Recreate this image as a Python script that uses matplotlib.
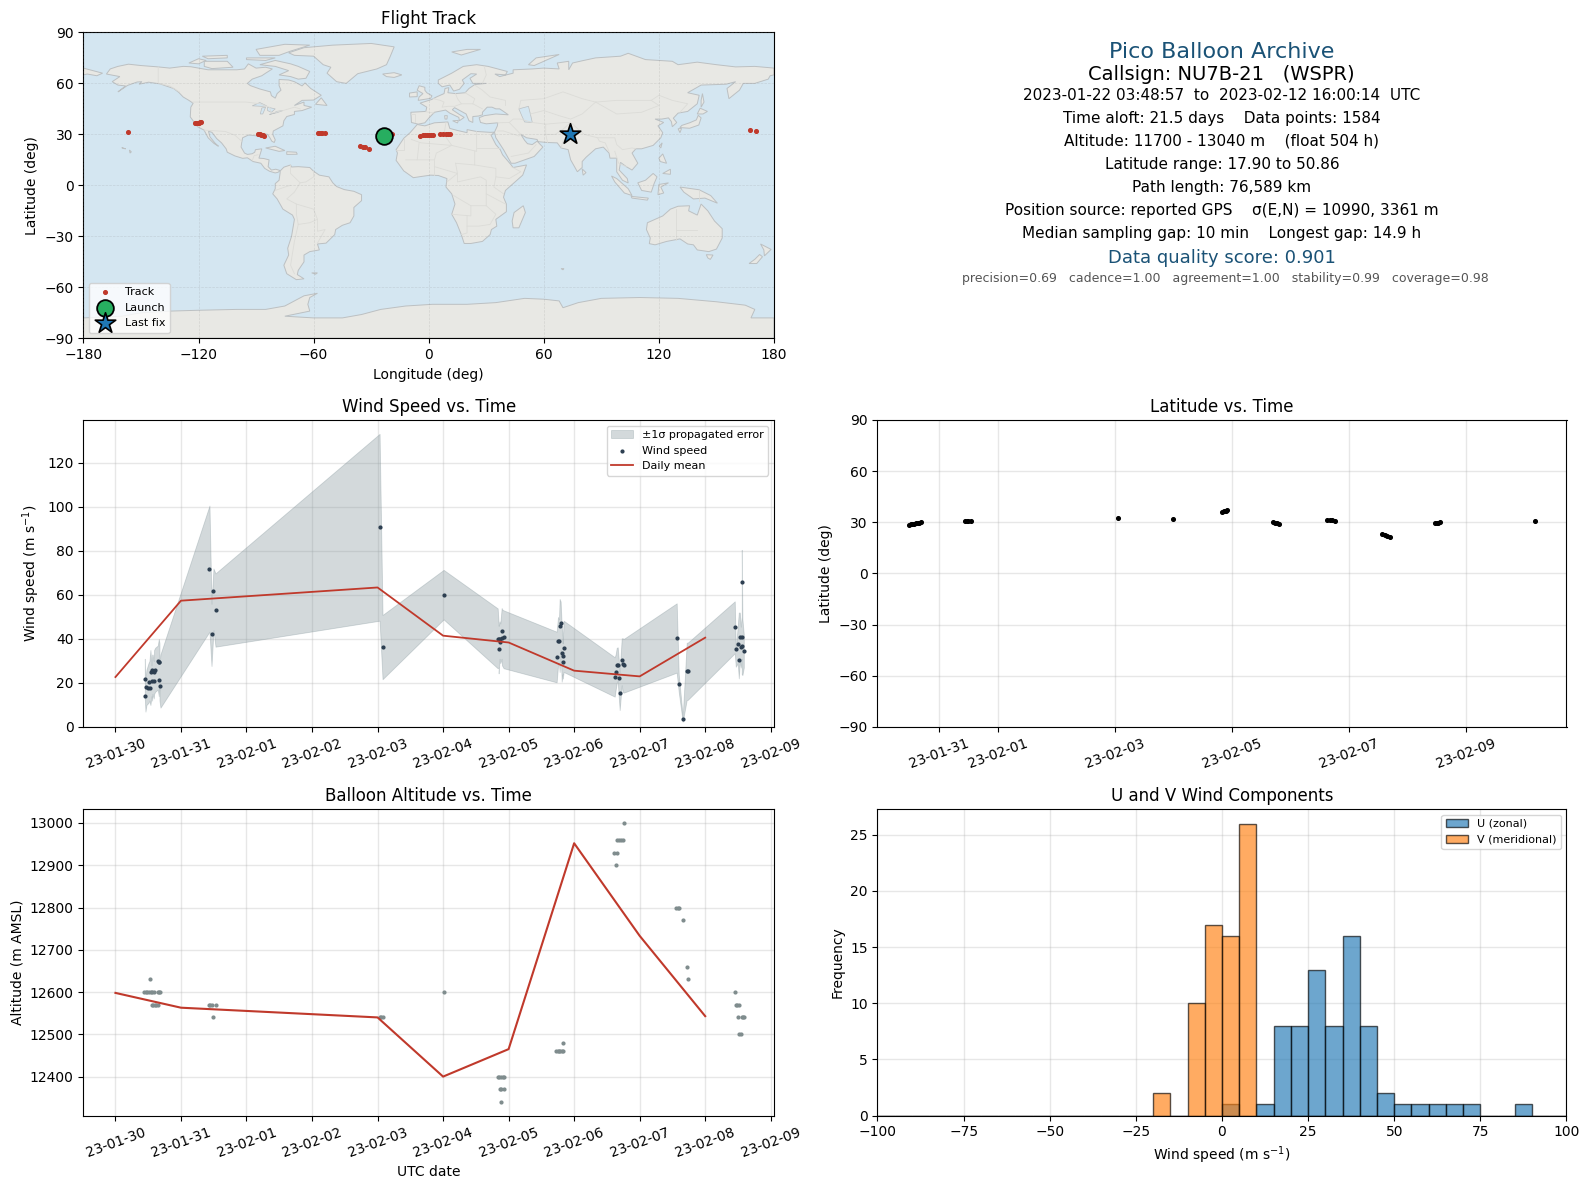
import matplotlib
matplotlib.use("Agg")
import matplotlib.pyplot as plt
import matplotlib.dates as mdates
import numpy as np

# ---------- data ----------
START = mdates.date2num(np.datetime64("2023-01-30"))
date_ticks_all = ["2023-01-30","2023-01-31","2023-02-01","2023-02-02","2023-02-03","2023-02-04",
                  "2023-02-05","2023-02-06","2023-02-07","2023-02-08","2023-02-09"]
date_ticks_lat = ["2023-01-31","2023-02-01","2023-02-03","2023-02-05","2023-02-07","2023-02-09"]

track_lon = [-156.6,-122,-121.2,-120.5,-120,-119.4,-118.7,-89.2,-88.5,-88,-87.3,-86.6,-85.6,
             -57.8,-57,-56.2,-55.4,-54.3,-35.6,-34.5,-33,-31,-19.2,-4.3,-3,-2,-1,0,1,2.3,5.9,7.5,9,10,11,167.3,170.6]
track_lat = [31.5,36.6,36.5,36.7,36.9,37.2,37.5,30,30,30,29.8,29.5,29,
             31,31,31,31,31,23.3,22.8,22.4,21.5,30,29,29.4,29.6,29.7,29.7,29.8,29.8,30.3,30.3,30.3,30.3,30.3,32.6,32]
launch_lon, launch_lat = -23.4, 29.0
last_lon, last_lat = 73.6, 30.2

wind_t = [.448,.458,.473,.504,.519,.534,.550,.560,.565,.585,.590,.606,.646,.662,.672,.672,.687,
          1.435,1.466,1.496,1.527,4.031,4.076,5.008,
          5.833,5.848,5.848,5.863,5.873,5.894,5.899,5.924,
          6.733,6.754,6.769,6.779,6.794,6.810,6.825,6.825,6.840,
          7.619,7.634,7.650,7.665,7.680,7.695,7.726,7.741,7.756,
          8.565,8.596,8.657,8.718,8.733,
          9.451,9.467,9.497,9.513,9.528,9.543,9.558,9.558,9.568,9.589]
wind_v = [21.7,13.9,18.0,17.6,20.6,17.9,24.8,21.1,26.1,20.8,24.8,26.1,30.2,29.4,29.7,21.2,18.5,
          71.7,42.1,61.7,53.0,90.8,36.2,59.8,
          39.8,39.8,35.3,39.8,38.5,43.5,40.5,40.8,
          31.7,38.9,38.9,45.8,47.1,33.5,32.1,29.4,35.8,
          22.6,24.8,28.0,28.0,22.1,15.3,30.3,28.5,28.0,
          40.3,19.4,3.5,25.3,25.3,
          45.3,35.3,37.6,30.3,40.8,36.2,40.8,65.8,36.7,34.4]
wind_lo = [13,7,10,11,12,10,14,12,15,13,15,16,17,14,19,12,8.8,
           43.3,27.7,44,36.5,48.3,21.7,48.9,
           26.7,27,24.4,31,29,31,28,26.7,
           20.3,28,29,25,35,20.6,24,22,25,
           13.8,17,20,21,14,7.7,19,16,15.6,
           24.7,16,2.4,12.3,12.3,
           33.5,27.4,29,22.1,30,27,31,24,23.6,27]
wind_hi = [31,21,26,29,30,35,28,32,33,30,35,36,37,40,38,29,33,
           100.6,56,72,69.8,133.2,50.9,71.4,
           53.9,47,46,48,47,54,53.5,53,
           43.3,50,49,58.2,57,46,41,38,48.3,
           31.7,33,36,36.2,31,25,40.3,40.3,40,
           56.2,24,4.7,38.3,38.3,
           57.1,35,46,52,52,45.6,50,80.5,49,42]
daily_t = [0,1,4,5,6,7,8,9]
wind_daily = [22.7,57.4,63.4,41.5,38.4,25.6,23,40.6]
alt_daily = [12598,12563,12540,12400,12465,12952,12733,12543]

alt_t = [.534,.438,.463,.489,.514,.539,.565,.590,.656,.672,.687,.56,.58,.60,.626,.646,
         1.43,1.45,1.476,1.527,1.496,4.03,4.05,4.076,5.008,
         5.833,5.86,5.884,5.91,5.924,5.863,5.889,5.924,5.878,
         6.73,6.75,6.77,6.79,6.81,6.83,6.835,
         7.634,7.61,7.655,7.655,7.685,7.715,7.745,7.756,
         8.56,8.58,8.60,8.657,8.718,8.733,
         9.451,9.467,9.487,9.517,9.503,9.564,9.58,9.595,9.52,9.545]
alt_v = [12630,12600,12600,12600,12600,12600,12600,12600,12600,12600,12600,12570,12570,12570,12570,12570,
         12570,12570,12570,12570,12540,12540,12540,12540,12600,
         12400,12400,12400,12400,12400,12370,12370,12370,12340,
         12460,12460,12460,12460,12460,12460,12480,
         12900,12930,12930,12960,12960,12960,12960,13000,
         12800,12800,12800,12770,12660,12630,
         12600,12570,12570,12570,12540,12540,12540,12540,12500,12500]

lat_t = [.48,.51,.54,.57,.60,.63,.66,.69,1.444,1.47,1.50,1.535,4.058,5.0,5.84,5.87,5.90,5.92,
         6.71,6.74,6.78,6.81,7.63,7.67,7.71,7.76,8.575,8.62,8.66,8.71,9.47,9.50,9.53,9.56,11.19]
lat_v = [28.6,28.9,29.1,29.3,29.5,29.7,29.9,30,30.6,30.6,30.6,30.6,32.3,31.8,36.2,36.5,36.8,37,
         30,29.7,29.4,29.2,31.2,31.2,31.1,30.6,23.2,22.6,22.1,21.6,29.4,29.5,29.7,30,30.6]

bin_edges = list(range(-100, 100, 5))
u_counts = [0]*20 + [1,0,1,8,8,13,8,16,8,2,1,1,1,1,1,0,0,1,0,0]
v_counts = [0]*16 + [2,0,10,17,16,26] + [0]*18

info_lines = [
    ("Pico Balloon Archive", 51.7, 16, "#1a5276", 1222),
    ("Callsign: NU7B-21   (WSPR)", 74, 14, "black", 1221),
    ("2023-01-22 03:48:57  to  2023-02-12 16:00:14  UTC", 95.3, 11, "black", 1222),
    ("Time aloft: 21.5 days    Data points: 1584", 118.6, 11, "black", 1222),
    ("Altitude: 11700 - 13040 m    (float 504 h)", 140.9, 11, "black", 1222),
    ("Latitude range: 17.90 to 50.86", 164.2, 11, "black", 1222),
    ("Path length: 76,589 km", 187.5, 11, "black", 1222),
    ("Position source: reported GPS    σ(E,N) = 10990, 3361 m", 210.8, 11, "black", 1222),
    ("Median sampling gap: 10 min    Longest gap: 14.9 h", 233.1, 11, "black", 1222),
    ("Data quality score: 0.901", 258.4, 13, "#1a5276", 1222),
    ("precision=0.69   cadence=1.00   agreement=1.00   stability=0.99   coverage=0.98", 278.2, 9, "#555555", 1225),
]

# simplified coastlines (lon, lat)
north_america = [(-168,65.5),(-166,68.5),(-162,70),(-156.5,71.3),(-150,70.5),(-141,69.7),(-135,69),(-128,70),(-124,69.8),(-115,68),(-108,68),(-100,68),(-96,68.5),(-94,71.5),(-90,69),(-85,69.5),(-81.5,68.5),(-85,66),(-87,64.5),(-92,62.5),(-94.5,60),(-93,58.7),(-88,56.7),(-82.5,55),(-82,52.8),(-80,51.3),(-79,54),(-77,56),(-78,58.7),(-78,62.3),(-73,62),(-70,61),(-66,58.5),(-64.5,60.3),(-61.5,57),(-56,53),(-60,50.2),(-66,50),(-70,47),(-65,49),(-65,47),(-61,46),(-66,44),(-70,43.5),(-70,41.7),(-74,40.5),(-75.5,38),(-76,35),(-78,33.8),(-81,32),(-81.3,30),(-80,26.8),(-80.5,25.2),(-81.8,26),(-82.8,28),(-84,30),(-86,30.4),(-89.5,30.2),(-89.5,29.1),(-91,29.3),(-94,29.6),(-97,28),(-97.5,25),(-97.8,22.5),(-96,19),(-94.5,18.2),(-92,18.6),(-90.7,19.5),(-90.3,21),(-87,21.5),(-87.8,18.5),(-88.5,16),(-86,15.8),(-83.2,15),(-83.7,11),(-82,9),(-79.7,9.5),(-77.4,8.7),(-78.5,7.7),(-80,7.3),(-83,8.3),(-85.5,10),(-87.5,13),(-91.5,14),(-94.5,16.2),(-97,15.9),(-101,17.3),(-105,19.5),(-105.6,21.5),(-108,25),(-110.5,27.5),(-113,31.2),(-114.8,31.8),(-114,28.5),(-111.5,25),(-109.6,23),(-112,24.7),(-115,28),(-117.1,32.5),(-120.5,34.5),(-122.5,37.5),(-124.3,40.3),(-124,46),(-122.8,48.3),(-125,50),(-128,52),(-130.3,54.7),(-133,57),(-137,58.5),(-140,59.7),(-146,60.7),(-151,59.5),(-149.5,61),(-152,60.8),(-157,58.8),(-162,55),(-158,58.5),(-162,59),(-165,61),(-161,64),(-168,65.5)]
south_america = [(-77.4,8.5),(-75.5,10.7),(-72,12),(-71.5,10.8),(-68,11),(-62,10.5),(-60,8.3),(-57,6),(-52,5),(-50,1.5),(-48,-0.7),(-44,-2.5),(-39,-3.5),(-35,-5.5),(-35,-9),(-39,-13),(-39,-18),(-41,-22),(-45,-23.5),(-48.5,-26),(-49,-29),(-53.5,-34),(-58,-34.5),(-57,-38),(-62,-39),(-65,-41),(-65,-45),(-68,-50),(-68.5,-52.5),(-65,-55),(-69,-55.5),(-74,-52),(-75.5,-47),(-73,-41),(-73.5,-37),(-71.5,-30),(-70,-20),(-71,-17.5),(-76,-14),(-79,-8),(-81.3,-5),(-80,-2),(-80,1),(-78,3),(-77.5,7)]
africa = [(-6,35.8),(-2,35),(3,36.8),(10,37.3),(11,33.5),(15,32.3),(20,31),(20,32.8),(25,31.7),(32,31.2),(34.3,31.3),(32.5,29.5),(35,24),(37.3,21),(38.5,18),(43,12),(44,10.5),(51,12),(49,6),(44,1),(40,-3),(39,-7),(40.5,-11),(40.5,-15.5),(35,-20),(35.5,-24),(32.7,-26),(32,-29),(28,-33),(22,-34.2),(18.5,-34.2),(17,-29),(14.5,-22),(12,-17),(13.7,-11),(12,-5),(9,-1),(9.5,4),(5,5.8),(1,6),(-4,5.2),(-8,4.5),(-13,8.5),(-17,14.7),(-16.3,19),(-17,21),(-13,27.7),(-9.7,31)]
eurasia = [(-9,37),(-9.3,43),(-1.5,43.5),(-1,46),(-4.5,48.4),(1.5,50.5),(4,52),(8,54),(8.5,57),(10.5,57.5),(10,54.5),(14,54),(19,54.5),(21,57),(24,59.3),(30,60),(23,60),(21.5,63),(25,65.5),(22,65.7),(17.5,62),(18.5,60),(16,56.5),(13,55.5),(11,59),(7,58),(5,60),(5,62),(12,66),(18,70),(25,71),(31,70),(41,67),(40,65),(34.5,65.5),(37,64),(44,66),(44,68),(54,68.5),(60,69),(68,68.5),(67,72),(73,73),(73,68),(75,72),(80,73.3),(87,75),(100,76),(104,77.7),(113,74),(127,73),(130,71),(140,72.5),(150,71),(160,69.7),(170,70),(180,69),(180,65),(178,64.5),(177,62.5),(170,60),(164,60),(162,56),(156.5,51),(155.5,57),(160,61),(155,59.5),(142,59),(135,54.5),(141,53),(140,48),(135,43.5),(130,42.5),(127.5,39.5),(129.3,37),(127,34.5),(126.5,37.5),(125,39.7),(121.5,39),(118,39),(122.5,37),(119.5,35),(122,31),(121,28),(117,23.5),(111,21.5),(108,21.5),(106,19),(109,13),(106,9),(103,11),(100,13.5),(99.3,9),(103.5,4),(104,1.4),(101,3),(98,8),(98,16),(94.5,16),(94,19),(91,22.5),(87,21.5),(82,16.5),(80,14),(80,10.5),(77.5,8),(74,15),(72.7,21),(69,22),(67,25),(62,25.2),(57,25.7),(56.5,27),(51,28),(48,30),(50,26.5),(51.5,24.5),(54,24),(56.5,26),(59.5,22.5),(55,17),(45,13),(43,13),(39,21),(35,28),(34.3,31.3),(35.8,35),(36,36.8),(30,36.2),(27,37),(26.3,39.8),(29,41),(35,42),(41.5,41.5),(39,43.5),(37,45),(35,45),(33,46),(30.5,46),(28,43),(28,41.5),(26,40.8),(23,40.5),(23,37),(21,38),(19.5,42),(13.5,45.7),(12.3,44.5),(16,41.7),(18.5,40),(16,38),(15.7,40),(11,42.5),(8.8,44.3),(3,43),(0,39.5),(-2,36.8),(-5.5,36)]
chukotka = [(-180,69),(-175,67.5),(-170,66),(-173,64.5),(-178,65.5),(-180,65)]
greenland = [(-73,78),(-65,81),(-50,82.5),(-30,83.5),(-18,81.5),(-20,76),(-22,71),(-27,68.5),(-37,65.7),(-43,60),(-48,61),(-53,66),(-51,69.5),(-55,71),(-60,76),(-70,76.5)]
australia = [(114,-22),(122,-18),(126,-14),(130,-12.3),(136,-12),(135.5,-15),(140,-17.5),(142,-11),(145.5,-15),(149,-21),(153,-25.5),(153,-31),(150,-37.5),(146,-39),(140,-38),(138,-35),(135,-34.5),(131,-31.5),(124,-33),(118,-35),(115,-34.3),(115.5,-31),(113.5,-26)]
antarctica = [(-180,-90),(-180,-78),(-160,-77),(-150,-75),(-135,-74),(-120,-73.5),(-100,-73),(-85,-73),(-75,-71),(-70,-68),(-65,-65),(-58,-63.5),(-62,-66),(-63,-70),(-62,-74),(-75,-77),(-60,-78),(-45,-78),(-35,-76),(-25,-73),(-12,-71),(2,-70),(20,-70),(35,-69),(50,-66.5),(60,-67),(68,-68),(70,-72),(78,-69),(90,-66.5),(110,-66),(130,-66.5),(150,-68.5),(165,-70.5),(170,-73),(168,-78),(180,-78),(180,-90)]
islands = [
 [(-80,73.5),(-72,71.5),(-68,70),(-62,67),(-64,63),(-68,62.5),(-72,64),(-78,65),(-73,67.5),(-80,70),(-88,71)],
 [(-117,73),(-105,73),(-102,69.5),(-113,68.7),(-117,70)],
 [(-90,80),(-75,83),(-62,82.5),(-72,79),(-78,76.5),(-88,76.5)],
 [(-125,72),(-120,74.5),(-116,73.5),(-120,71.5)],
 [(-95,75),(-80,75),(-85,73.5),(-95,74)],
 [(-118,76),(-105,76.5),(-105,75),(-115,74.5)],
 [(-59,47.7),(-56,51.5),(-53,47)],
 [(-85,22),(-80,23),(-75,20.5),(-78,20)],
 [(-74,19.8),(-69,19.5),(-68.5,18.3),(-74,18.2)],
 [(-156,20.8),(-155,19.7),(-155.7,19)],
 [(-160,22.2),(-158,21.5),(-159,21.7)],
 [(-24,65.5),(-18,66.3),(-14,65),(-18,63.5),(-22,64)],
 [(49.3,-12),(50.4,-16),(47,-25),(44,-25),(43.5,-21),(44.5,-16)],
 [(-5.5,50),(1,51.2),(1.7,52.7),(-1,54.5),(-2,56),(-2,57.7),(-5,58.6),(-6,56),(-3,54),(-5,52)],
 [(-10,52),(-6,52.2),(-6,55),(-10,54.3)],
 [(130.9,34),(136,33.6),(140.8,35.5),(142,39.7),(140.5,41.2),(139.5,38.5),(136,36.8),(132,35.3)],
 [(130,33.3),(131.8,33.5),(131,31)],
 [(140,42),(141.5,45.4),(145.3,43.5),(143,42)],
 [(142,46),(143.5,49),(142.7,54),(142,50)],
 [(120.2,23),(121.7,25),(121,22)],
 [(120,16),(122,18.5),(124,13),(120.7,14)],
 [(122,7),(126,9.5),(126,6.5)],
 [(109,1.5),(113,3),(117,7),(119,5),(117.5,1),(116,-4),(111,-3)],
 [(95.3,5.5),(98,4),(104,-2),(106,-6),(102,-4.5),(97,2)],
 [(105.5,-6.5),(114.5,-7.5),(114,-8.7),(106,-7.5)],
 [(119.5,-5.5),(120,0.5),(125,1.5),(121,-1),(122.5,-4.5)],
 [(131,-1),(141,-2.6),(147,-6),(150.5,-10.5),(144,-7.5),(138,-8),(133,-4)],
 [(80,9.7),(82,7.5),(80.5,6)],
 [(144.7,-40.8),(148.2,-41),(146.8,-43.6),(145.5,-42.7)],
 [(173,-34.5),(178.5,-37.7),(175,-41.5),(174.7,-38)],
 [(172.5,-40.7),(174,-42),(171,-46),(167,-46),(170,-43.5)],
 [(12,78.5),(20,80),(27,80),(17,76.7)],
 [(52,71),(56,75),(68,77),(58,72),(55,70.5)],
 [(8.3,41),(9.7,41),(9.5,39),(8.5,39)],
 [(12.5,38),(15.5,38.2),(15,36.7)],
 [(-61,-51.5),(-58,-51.5),(-59,-52.3)],
 [(69,-49),(70.5,-49),(70,-49.7)],
]
inland_water = [
 [(47,45),(52,46.5),(53,42),(54,37),(50,37.3),(48.5,41)],
 [(-92,46.8),(-88,48.7),(-84.5,46.8),(-87,46.5)],
 [(-87.8,42),(-87,45.5),(-85,46),(-86.5,42)],
 [(-84,46),(-80,45),(-82,43),(-84,44)],
 [(-83,41.7),(-79,42.8),(-76,44),(-79.5,43.5),(-80,42.8)],
]
borders = [
 [(-123,49),(-95,49),(-88,48),(-83,46),(-82,42.5),(-76,44),(-70,46),(-67,45)],
 [(-141,69.7),(-141,60),(-135,58.5),(-130,55)],
 [(-117,32.5),(-106,31.7),(-101,29.5),(-97.5,26)],
 [(-92,14.5),(-91,17.5),(-89,18)],
 [(-72,12),(-72,7),(-67,1.5),(-70,-4),(-74,-8),(-69,-11),(-69,-17),(-68,-23),(-70,-33),(-72,-47),(-70,-52)],
 [(-60,8.3),(-60,5),(-64,2),(-67,1.5)],
 [(-58,-20),(-58,-27),(-54,-26),(-58,-34)],
 [(-69,-11),(-60,-14),(-58,-20),(-62,-22),(-68,-23)],
 [(-80,-3),(-75,-1),(-72,0)],
 [(-9,42),(-7,42),(-7,37)],
 [(-1.5,43.3),(3,42.5)],
 [(2.5,51),(6,50),(8,49),(7,46),(10,46.5),(13.5,46.5),(17,48),(23,48),(24,51),(19,54.5)],
 [(14,54),(15,51),(17,48)],
 [(28,45),(23,48)],
 [(28,60),(30,65),(29,70)],
 [(24,59),(28,56),(32,52),(40,50),(40,47)],
 [(47,45),(48,50),(60,51),(70,55),(80,51),(87,49),(98,50),(107,50),(116,50),(120,53),(127,50),(135,48),(131,43)],
 [(53,42),(60,44),(68,41),(74,39),(80,42),(87,49)],
 [(54,37),(61,36),(61,30),(62,25)],
 [(61,36),(71,37),(74,37),(70,33),(66,30),(61,30)],
 [(74,37),(78,33),(81,30),(88,28),(97,28),(98,24),(101,21),(106,22),(108,21.5)],
 [(74,37),(75,32),(70,26),(69,22)],
 [(88,28),(89,26),(92,25),(94,20)],
 [(87,49),(98,42),(111,43),(120,47),(116,50)],
 [(36,36.8),(42,37),(48,30)],
 [(42,37),(44,39),(48,39),(54,37)],
 [(36,32),(39,32),(47,29),(48,30)],
 [(43,17),(52,19),(56,24)],
 [(-9,27),(-4,25),(12,23.5),(25,20),(25,31.7)],
 [(9,37),(8,30),(12,23.5)],
 [(-17,21),(-13,21),(-13,27.7)],
 [(-5,25),(-6,15),(-12,15)],
 [(-6,15),(3,15),(4,19),(12,23.5)],
 [(3,15),(3,6)],
 [(14,13),(24,12),(24,20)],
 [(24,12),(35,10),(35,5),(42,4),(48,8),(43,11)],
 [(25,22),(37,22)],
 [(3,11),(15,7),(9.5,2)],
 [(14,13),(15,7),(15,2),(27,5),(30,3),(30,-5),(30,-12),(22,-12),(13,-6)],
 [(35,5),(34,-1),(39,-5)],
 [(30,-5),(40,-11)],
 [(22,-12),(22,-18),(12,-17)],
 [(20,-18),(20,-28),(17,-29)],
 [(20,-24),(26,-24),(32,-23),(35,-17),(30,-12)],
 [(97,20),(99,13),(103,11)],
 [(141,-2.6),(141,-9)],
 [(140,-26),(129,-26)],
 [(129,-14),(129,-32)],
]

# ---------- style ----------
RED = "#c0392b"
GREY = "#7f8c8d"
NAVY = "#2c3e50"
W, H = 1589.0, 1189.0

def axes_px(x0, x1, y0, y1):
    return fig.add_axes([x0/W, 1-y1/H, (x1-x0)/W, (y1-y0)/H])

def style_grid(ax):
    ax.set_axisbelow(True)
    ax.grid(True, color="#b0b0b0", alpha=0.3, linewidth=1)

fig = plt.figure(figsize=(15.89, 11.89), dpi=100)

# ---------- map ----------
ax = axes_px(83.4, 774, 32.4, 338.3)
ax.set_facecolor("#d4e6f1")
for poly in [north_america, south_america, africa, eurasia, chukotka, greenland, australia, antarctica] + islands:
    ax.fill(*zip(*poly), facecolor="#e8e8e4", edgecolor="#bcc0c2", linewidth=0.7, zorder=1)
for poly in inland_water:
    ax.fill(*zip(*poly), facecolor="#d4e6f1", edgecolor="#bcc0c2", linewidth=0.5, zorder=1.1)
for line in borders:
    ax.plot(*zip(*line), color="#dcdcd8", linewidth=0.6, zorder=1.2)
ax.scatter(track_lon, track_lat, s=7, color=RED, zorder=4, label="Track")
ax.scatter([launch_lon], [launch_lat], s=145, color="#27ae60", edgecolor="black", linewidth=1.3, zorder=5, label="Launch")
ax.scatter([last_lon], [last_lat], s=240, marker="*", color="#1f77b4", edgecolor="black", linewidth=1.2, zorder=5, label="Last fix")
ax.set_xlim(-180, 180); ax.set_ylim(-90, 90)
ax.set_xticks(range(-180, 181, 60)); ax.set_yticks(range(-90, 91, 30))
ax.grid(True, color="#808080", alpha=0.2, linewidth=0.5, linestyle="--", zorder=2)
ax.set_axisbelow(False)
ax.set_xlabel("Longitude (deg)"); ax.set_ylabel("Latitude (deg)")
ax.set_title("Flight Track")
ax.legend(loc="lower left", fontsize=8)

# ---------- info text ----------
for txt, y, size, col, xp in info_lines:
    fig.text(xp/W, 1-y/H, txt, ha="center", va="center", fontsize=size, color=col)

def date_axis(ax, ticks, xlim):
    ax.set_xticks([mdates.date2num(np.datetime64(d)) for d in ticks])
    ax.xaxis.set_major_formatter(mdates.DateFormatter("%y-%m-%d"))
    ax.set_xlim(START+xlim[0], START+xlim[1])
    ax.tick_params(axis="x", labelrotation=20)

XL = (-0.489, 10.05)
wt = START + np.array(wind_t)
dt = START + np.array(daily_t)

# ---------- wind ----------
ax = axes_px(83.4, 774, 420, 727)
style_grid(ax)
ax.fill_between(wt, wind_lo, wind_hi, color="#7b8e94", alpha=0.33, linewidth=0.6, label="±1σ propagated error")
ax.scatter(wt, wind_v, s=4, color=NAVY, zorder=3, label="Wind speed")
ax.plot(dt, wind_daily, color=RED, linewidth=1.3, zorder=4, label="Daily mean")
date_axis(ax, date_ticks_all, XL)
ax.set_ylim(0, 139.5)
ax.set_yticks(range(0, 121, 20))
ax.set_ylabel("Wind speed (m s$^{-1}$)")
ax.set_title("Wind Speed vs. Time")
ax.legend(loc="upper right", fontsize=8)

# ---------- latitude ----------
ax = axes_px(877.5, 1566.5, 420, 727)
style_grid(ax)
ax.scatter(START+np.array(lat_t), lat_v, s=7, color="black", zorder=3)
date_axis(ax, date_ticks_lat, (-0.055, 11.72))
ax.set_ylim(-90, 90)
ax.set_yticks(range(-90, 91, 30))
ax.set_ylabel("Latitude (deg)")
ax.set_title("Latitude vs. Time")

# ---------- altitude ----------
ax = axes_px(83.4, 774, 809, 1115.5)
style_grid(ax)
ax.scatter(START+np.array(alt_t), alt_v, s=4, color=GREY, zorder=3)
ax.plot(dt, alt_daily, color=RED, linewidth=1.5, zorder=4)
date_axis(ax, date_ticks_all, XL)
ax.set_ylim(12308, 13033)
ax.set_yticks(range(12400, 13001, 100))
ax.set_ylabel("Altitude (m AMSL)")
ax.set_xlabel("UTC date")
ax.set_title("Balloon Altitude vs. Time")

# ---------- histogram ----------
ax = axes_px(877.5, 1566.5, 809, 1115.5)
style_grid(ax)
ax.bar(bin_edges, u_counts, width=5, align="edge", color="#1f77b4", alpha=0.65, edgecolor="black", label="U (zonal)")
ax.bar(bin_edges, v_counts, width=5, align="edge", color="#ff7f0e", alpha=0.65, edgecolor="black", label="V (meridional)")
ax.set_xlim(-100, 100)
ax.set_ylim(0, 27.3)
ax.set_xlabel("Wind speed (m s$^{-1}$)")
ax.set_ylabel("Frequency")
ax.set_title("U and V Wind Components")
ax.legend(loc="upper right", fontsize=8)

fig.savefig("out.png", dpi=100)
